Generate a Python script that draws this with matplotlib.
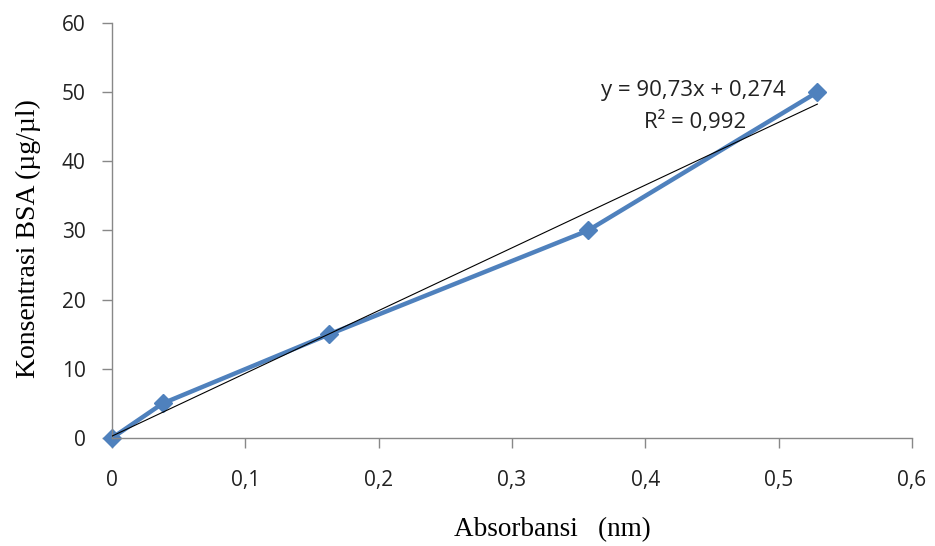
import numpy as np
import matplotlib.pyplot as plt

# data
absorbansi = [0, 0.038, 0.163, 0.357, 0.529]
konsentrasi = [0, 5, 15, 30, 50]
slope, intercept = 90.73, 0.274
x_ticks = [0, 0.1, 0.2, 0.3, 0.4, 0.5, 0.6]
x_tick_labels = ['0', '0,1', '0,2', '0,3', '0,4', '0,5', '0,6']
y_ticks = [0, 10, 20, 30, 40, 50, 60]

fig = plt.figure(figsize=(9.35, 5.46), dpi=100)
ax = fig.add_axes([0.1198, 0.1978, 0.8556, 0.7601])

# trendline
xt = np.array([0, max(absorbansi)])
ax.plot(xt, slope * xt + intercept, color='black', lw=0.8, zorder=3)

ax.plot(absorbansi, konsentrasi, color='#4F81BD', lw=3.2, marker='D',
        markersize=9.5, zorder=2, clip_on=False)

ax.set_xlim(0, 0.6)
ax.set_ylim(0, 60)
ax.set_xticks(x_ticks)
ax.set_xticklabels(x_tick_labels)
ax.set_yticks(y_ticks)

for s in ['top', 'right']:
    ax.spines[s].set_visible(False)
for s in ['left', 'bottom']:
    ax.spines[s].set_color('#888888')
    ax.spines[s].set_linewidth(1)

ax.tick_params(axis='both', colors='#888888', length=7, width=1,
               labelcolor='#222222', labelsize=15)
ax.tick_params(axis='x', pad=16)
ax.tick_params(axis='y', pad=12)
for lab in ax.get_xticklabels() + ax.get_yticklabels():
    lab.set_family('Open Sans')

ax.set_xlabel('Absorbansi   (nm)', family='Liberation Serif', fontsize=19.5, labelpad=19)
ax.set_ylabel('Konsentrasi BSA (µg/µl)', family='Liberation Serif', fontsize=20, labelpad=15)
ax.xaxis.label.set_x(0.55)
ax.yaxis.label.set_y(0.48)

ax.text(0.436, 50.2, 'y = 90,73x + 0,274', family='Open Sans', fontsize=16,
        ha='center', va='center', color='#222222')
ax.text(0.437, 45.7, 'R² = 0,992', family='Open Sans', fontsize=16,
        ha='center', va='center', color='#222222')

fig.savefig('out.png', dpi=100)
